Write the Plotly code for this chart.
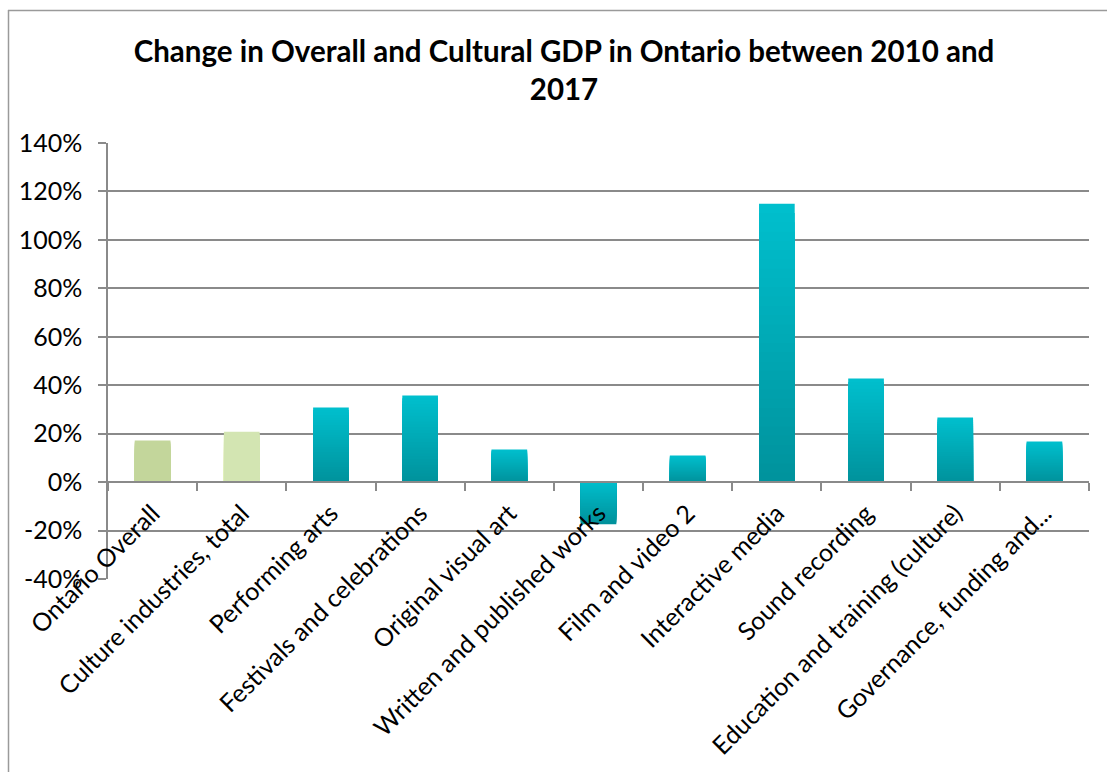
import plotly.graph_objects as go

categories = ["Ontario Overall", "Culture industries, total", "Performing arts",
              "Festivals and celebrations", "Original visual art",
              "Written and published works", "Film and video 2", "Interactive media",
              "Sound recording", "Education and training (culture)", "Governance, funding and..."]
values = [0.172, 0.208, 0.308, 0.358, 0.135, -0.174, 0.110, 1.149, 0.428, 0.267, 0.168]
y_ticks = [-0.4, -0.2, 0.0, 0.2, 0.4, 0.6, 0.8, 1.0, 1.2, 1.4]
y_tick_labels = ["-40%", "-20%", "0%", "20%", "40%", "60%", "80%", "100%", "120%", "140%"]
title_text = "Change in Overall and Cultural GDP in Ontario between 2010 and<br>2017"

green1 = "#c3d69b"
green2 = "#d3e5b2"
teal_top = (0, 191, 205)
teal_bot = (0, 145, 155)

W, H = 1107, 772
ML, MR, MT, MB = 108, 18, 143, 193
y_min, y_max = -0.4, 1.4

def lerp(a, b, t):
    return "rgb(%d,%d,%d)" % tuple(round(a[i] + (b[i] - a[i]) * t) for i in range(3))

fig = go.Figure()
N = 30
for k in range(N):
    frac = (N - k) / N
    ys = [v * frac for v in values]
    cols = []
    for i, v in enumerate(values):
        if i == 0:
            cols.append(green1)
        elif i == 1:
            cols.append(green2)
        elif v >= 0:
            cols.append(lerp(teal_bot, teal_top, frac))
        else:
            cols.append(lerp(teal_top, teal_bot, frac))
    fig.add_trace(go.Bar(x=categories, y=ys, marker=dict(color=cols, line=dict(width=0)),
                         showlegend=False, hoverinfo="skip" if k else None))

fig.update_layout(
    width=W, height=H, barmode="overlay", bargap=0.6,
    margin=dict(l=ML, r=MR, t=MT, b=MB, autoexpand=False),
    paper_bgcolor="white", plot_bgcolor="white",
    font=dict(family="Lato, Calibri, sans-serif", color="black"),
    title=dict(text=title_text, x=564 / W, xanchor="center", xref="container",
               y=1 - 62 / H, yanchor="middle", yref="container",
               font=dict(size=29.5, family="Lato, Calibri, sans-serif", color="black",
                         weight="bold")),
)

fig.update_yaxes(range=[y_min, y_max], tickvals=y_ticks, ticktext=y_tick_labels,
                 showgrid=True, gridcolor="#8a8a8a", gridwidth=1.5,
                 showline=True, linecolor="#8a8a8a", linewidth=1.5,
                 ticks="outside", ticklen=8, tickcolor="#8a8a8a", tickwidth=1.5,
                 zeroline=False, tickfont=dict(size=25, color="black"),
                 ticklabelstandoff=11, fixedrange=True)
fig.update_xaxes(type="category", anchor="free",
                 position=(0 - y_min) / (y_max - y_min),
                 showline=True, linecolor="#8a8a8a", linewidth=1.5,
                 ticks="outside", tickson="boundaries", ticklen=8, tickcolor="#8a8a8a",
                 tickwidth=1.5, tickangle=-45, tickfont=dict(size=25, color="black"),
                 ticklabelstandoff=6, showgrid=False, fixedrange=True)

pw = W - ML - MR
ph = H - MT - MB
def px_x(px):
    return (px - ML) / pw
def px_y(py):
    return (H - MB - py) / ph
border = dict(color="#9a9a9a", width=1.5)
fig.add_shape(type="line", xref="paper", yref="paper",
              x0=px_x(8.5), x1=px_x(8.5), y0=px_y(10), y1=px_y(H + 20), line=border)
fig.add_shape(type="line", xref="paper", yref="paper",
              x0=px_x(8), x1=px_x(W + 20), y0=px_y(10.5), y1=px_y(10.5), line=border)

fig.write_html("out.html")
